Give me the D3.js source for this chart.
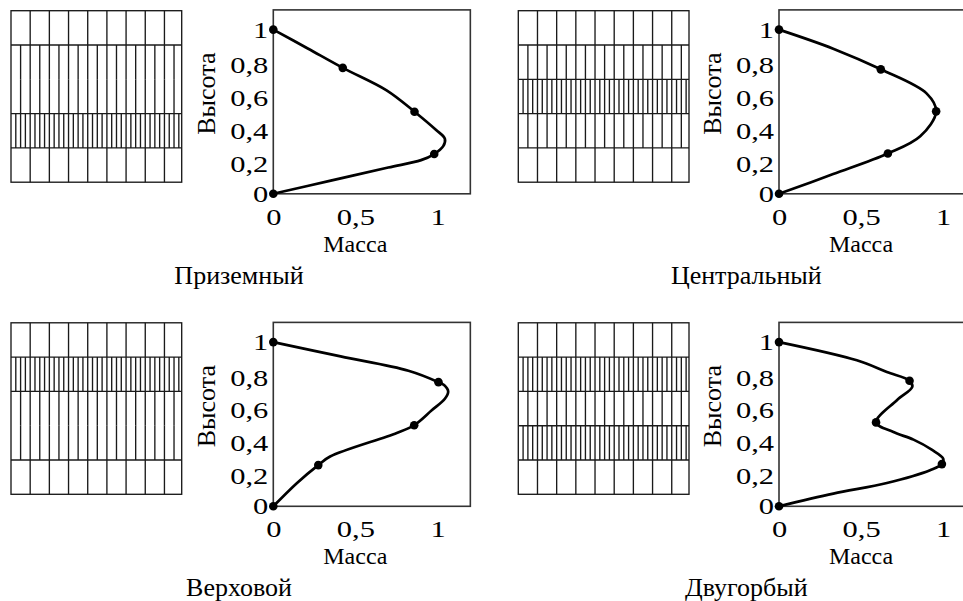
<!DOCTYPE html>
<html>
<head>
<meta charset="utf-8">
<script src="https://cdn.jsdelivr.net/npm/d3@7"></script>
<style>
  html, body { margin: 0; padding: 0; background: #fff; }
  svg { display: block; }
  svg text { font-family: "Liberation Serif", "Times New Roman", Times, "DejaVu Serif", serif; fill: #000; }
</style>
</head>
<body>
<svg id="chart" width="963" height="601"></svg>
<script>
// Profile types
const panelNames = ["Приземный", "Центральный", "Верховой", "Двугорбый"];

// Layer density in each 0.2-high band, bottom to top (subdivisions per grid column)
const groundBands  = [1, 4, 2, 2, 1];
const centralBands = [1, 2, 4, 2, 1];
const crownBands   = [1, 2, 2, 4, 1];
const doubleBands  = [1, 4, 2, 4, 1];

// Mass distribution curves, [mass, height]
const groundCurve = [[0,0],[0.35,0.08],[0.70,0.16],[0.90,0.205],[0.98,0.242],[1.035,0.29],[1.045,0.335],[0.99,0.39],[0.86,0.50],[0.69,0.63],[0.423,0.767],[0.21,0.885],[0,1]];
const centralCurve = [[0,0],[0.33,0.12],[0.663,0.245],[0.86,0.35],[0.957,0.502],[0.90,0.61],[0.62,0.758],[0.33,0.884],[0,1]];
const crownCurve = [[0,0],[0.143,0.141],[0.274,0.251],[0.346,0.303],[0.752,0.446],[0.858,0.494],[0.965,0.585],[1.045,0.655],[1.065,0.7],[1.04,0.738],[1.006,0.756],[0.823,0.826],[0.41,0.913],[0,1]];
const doubleCurve = [[0,0],[0.331,0.077],[0.657,0.142],[0.92,0.22],[0.992,0.257],[1.0,0.29],[0.93,0.345],[0.819,0.406],[0.697,0.452],[0.591,0.511],[0.718,0.646],[0.812,0.728],[0.795,0.765],[0.657,0.818],[0.474,0.889],[0,1]];

// Measured points, [mass, height]
const groundPoints  = [[0,0],[0.98,0.242],[0.86,0.50],[0.423,0.767],[0,1]];
const centralPoints = [[0,0],[0.663,0.245],[0.957,0.502],[0.62,0.758],[0,1]];
const crownPoints   = [[0,0],[0.274,0.251],[0.858,0.494],[1.006,0.756],[0,1]];
const doublePoints  = [[0,0],[0.992,0.257],[0.591,0.511],[0.795,0.765],[0,1]];

// Axis ticks
const xTicks = [0, 0.5, 1];
const xTickLabels = ["0", "0,5", "1"];
const yTicks = [0, 0.2, 0.4, 0.6, 0.8, 1];
const yTickLabels = ["0", "0,2", "0,4", "0,6", "0,8", "1"];
const xLabel = "Масса";
const yLabel = "Высота";

const bandsList = [groundBands, centralBands, crownBands, doubleBands];
const curves = [groundCurve, centralCurve, crownCurve, doubleCurve];
const pointsList = [groundPoints, centralPoints, crownPoints, doublePoints];

// Layout
const gridLeft = [11, 518.3];
const gridTop = [10.7, 322.8];
const gridW = 170.7, gridH = 171.5;
const colStep = 1 / 8.9;
const plotLeft = [273.3, 779];
const plotBottom = [193.8, 506.3];
const unit = 164.2;
const xMax = 1.2, yMax = 1.12;
const serif = "'Liberation Serif', 'Times New Roman', Times, 'DejaVu Serif', serif";
const tickFont = 24, tickStretch = 1.27;

const svg = d3.select("#chart");
svg.append("rect").attr("width", 963).attr("height", 601).attr("fill", "#fff");

// Widen the numeric tick labels horizontally
function stretchLabels(sel) {
  sel.each(function () {
    const w = this.getComputedTextLength();
    d3.select(this).attr("textLength", w * tickStretch).attr("lengthAdjust", "spacingAndGlyphs");
  });
}

panelNames.forEach((name, i) => {
  const col = i % 2, row = Math.floor(i / 2);
  const g = svg.append("g").attr("font-family", serif);

  // --- Stand schematic grid ---
  const gx = d3.scaleLinear().domain([0, 1]).range([gridLeft[col], gridLeft[col] + gridW]);
  const gy = d3.scaleLinear().domain([0, 1]).range([gridTop[row] + gridH, gridTop[row]]);
  const grid = g.append("g").attr("stroke", "#1a1a1a").attr("stroke-width", 1.35).attr("fill", "none");
  const bands = bandsList[i];
  const nb = bands.length;
  bands.forEach((d, b) => {
    const h0 = b / nb, h1 = (b + 1) / nb;
    const step = colStep / d;
    const xs = d3.range(1, Math.ceil(1 / step)).map(k => k * step).filter(v => v < 0.995);
    grid.selectAll(null).data(xs).join("line")
      .attr("x1", v => gx(v)).attr("x2", v => gx(v))
      .attr("y1", gy(h0)).attr("y2", gy(h1));
    if (b > 0 && bands[b - 1] !== d) {
      grid.append("line")
        .attr("x1", gx(0)).attr("x2", gx(1))
        .attr("y1", gy(h0)).attr("y2", gy(h0));
    }
  });
  grid.append("rect")
    .attr("x", gx(0)).attr("y", gy(1))
    .attr("width", gx(1) - gx(0)).attr("height", gy(0) - gy(1));

  // --- Mass profile plot ---
  const x = d3.scaleLinear().domain([0, xMax]).range([plotLeft[col], plotLeft[col] + xMax * unit]);
  const y = d3.scaleLinear().domain([0, yMax]).range([plotBottom[row], plotBottom[row] - yMax * unit]);

  g.append("rect")
    .attr("x", x(0)).attr("y", y(yMax))
    .attr("width", x(xMax) - x(0)).attr("height", y(0) - y(yMax))
    .attr("fill", "none").attr("stroke", "#333").attr("stroke-width", 1.6);

  const xAxis = g.append("g")
    .attr("transform", `translate(0,${y(0)})`)
    .call(d3.axisBottom(x).tickValues(xTicks).tickSize(0).tickPadding(14)
      .tickFormat((d, k) => xTickLabels[k]));
  const yAxis = g.append("g")
    .attr("transform", `translate(${x(0)},0)`)
    .call(d3.axisLeft(y).tickValues(yTicks).tickSize(0).tickPadding(5)
      .tickFormat((d, k) => yTickLabels[k]));
  [xAxis, yAxis].forEach(a => {
    a.attr("font-family", serif).attr("font-size", tickFont);
    a.select(".domain").remove();
    a.selectAll("text").attr("fill", "#000").call(stretchLabels);
  });
  // decimal labels sit a little lower
  yAxis.selectAll("text").filter((d, k) => yTickLabels[k].includes(","))
    .attr("y", 2.5);

  g.append("text")
    .attr("x", x(0.5)).attr("y", y(0) + 58)
    .attr("text-anchor", "middle").attr("font-size", 24)
    .text(xLabel);
  g.append("text")
    .attr("transform", `translate(${x(0) - 67},${y(0.61)}) rotate(-90)`)
    .attr("text-anchor", "middle").attr("dominant-baseline", "central").attr("font-size", 26)
    .text(yLabel);

  const line = d3.line()
    .x(d => x(d[0])).y(d => y(d[1]))
    .curve(d3.curveCatmullRom.alpha(0.5));
  g.append("path")
    .datum(curves[i])
    .attr("d", line)
    .attr("fill", "none").attr("stroke", "#000").attr("stroke-width", 2.7)
    .attr("stroke-linejoin", "round");

  g.selectAll(null).data(pointsList[i]).join("circle")
    .attr("cx", d => x(d[0])).attr("cy", d => y(d[1])).attr("r", 4.3)
    .attr("fill", "#000");

  // Caption
  g.append("text")
    .attr("x", gridLeft[col] + 228).attr("y", gridTop[row] + 273.5)
    .attr("text-anchor", "middle").attr("font-size", 26)
    .text(name);
});
</script>
</body>
</html>
